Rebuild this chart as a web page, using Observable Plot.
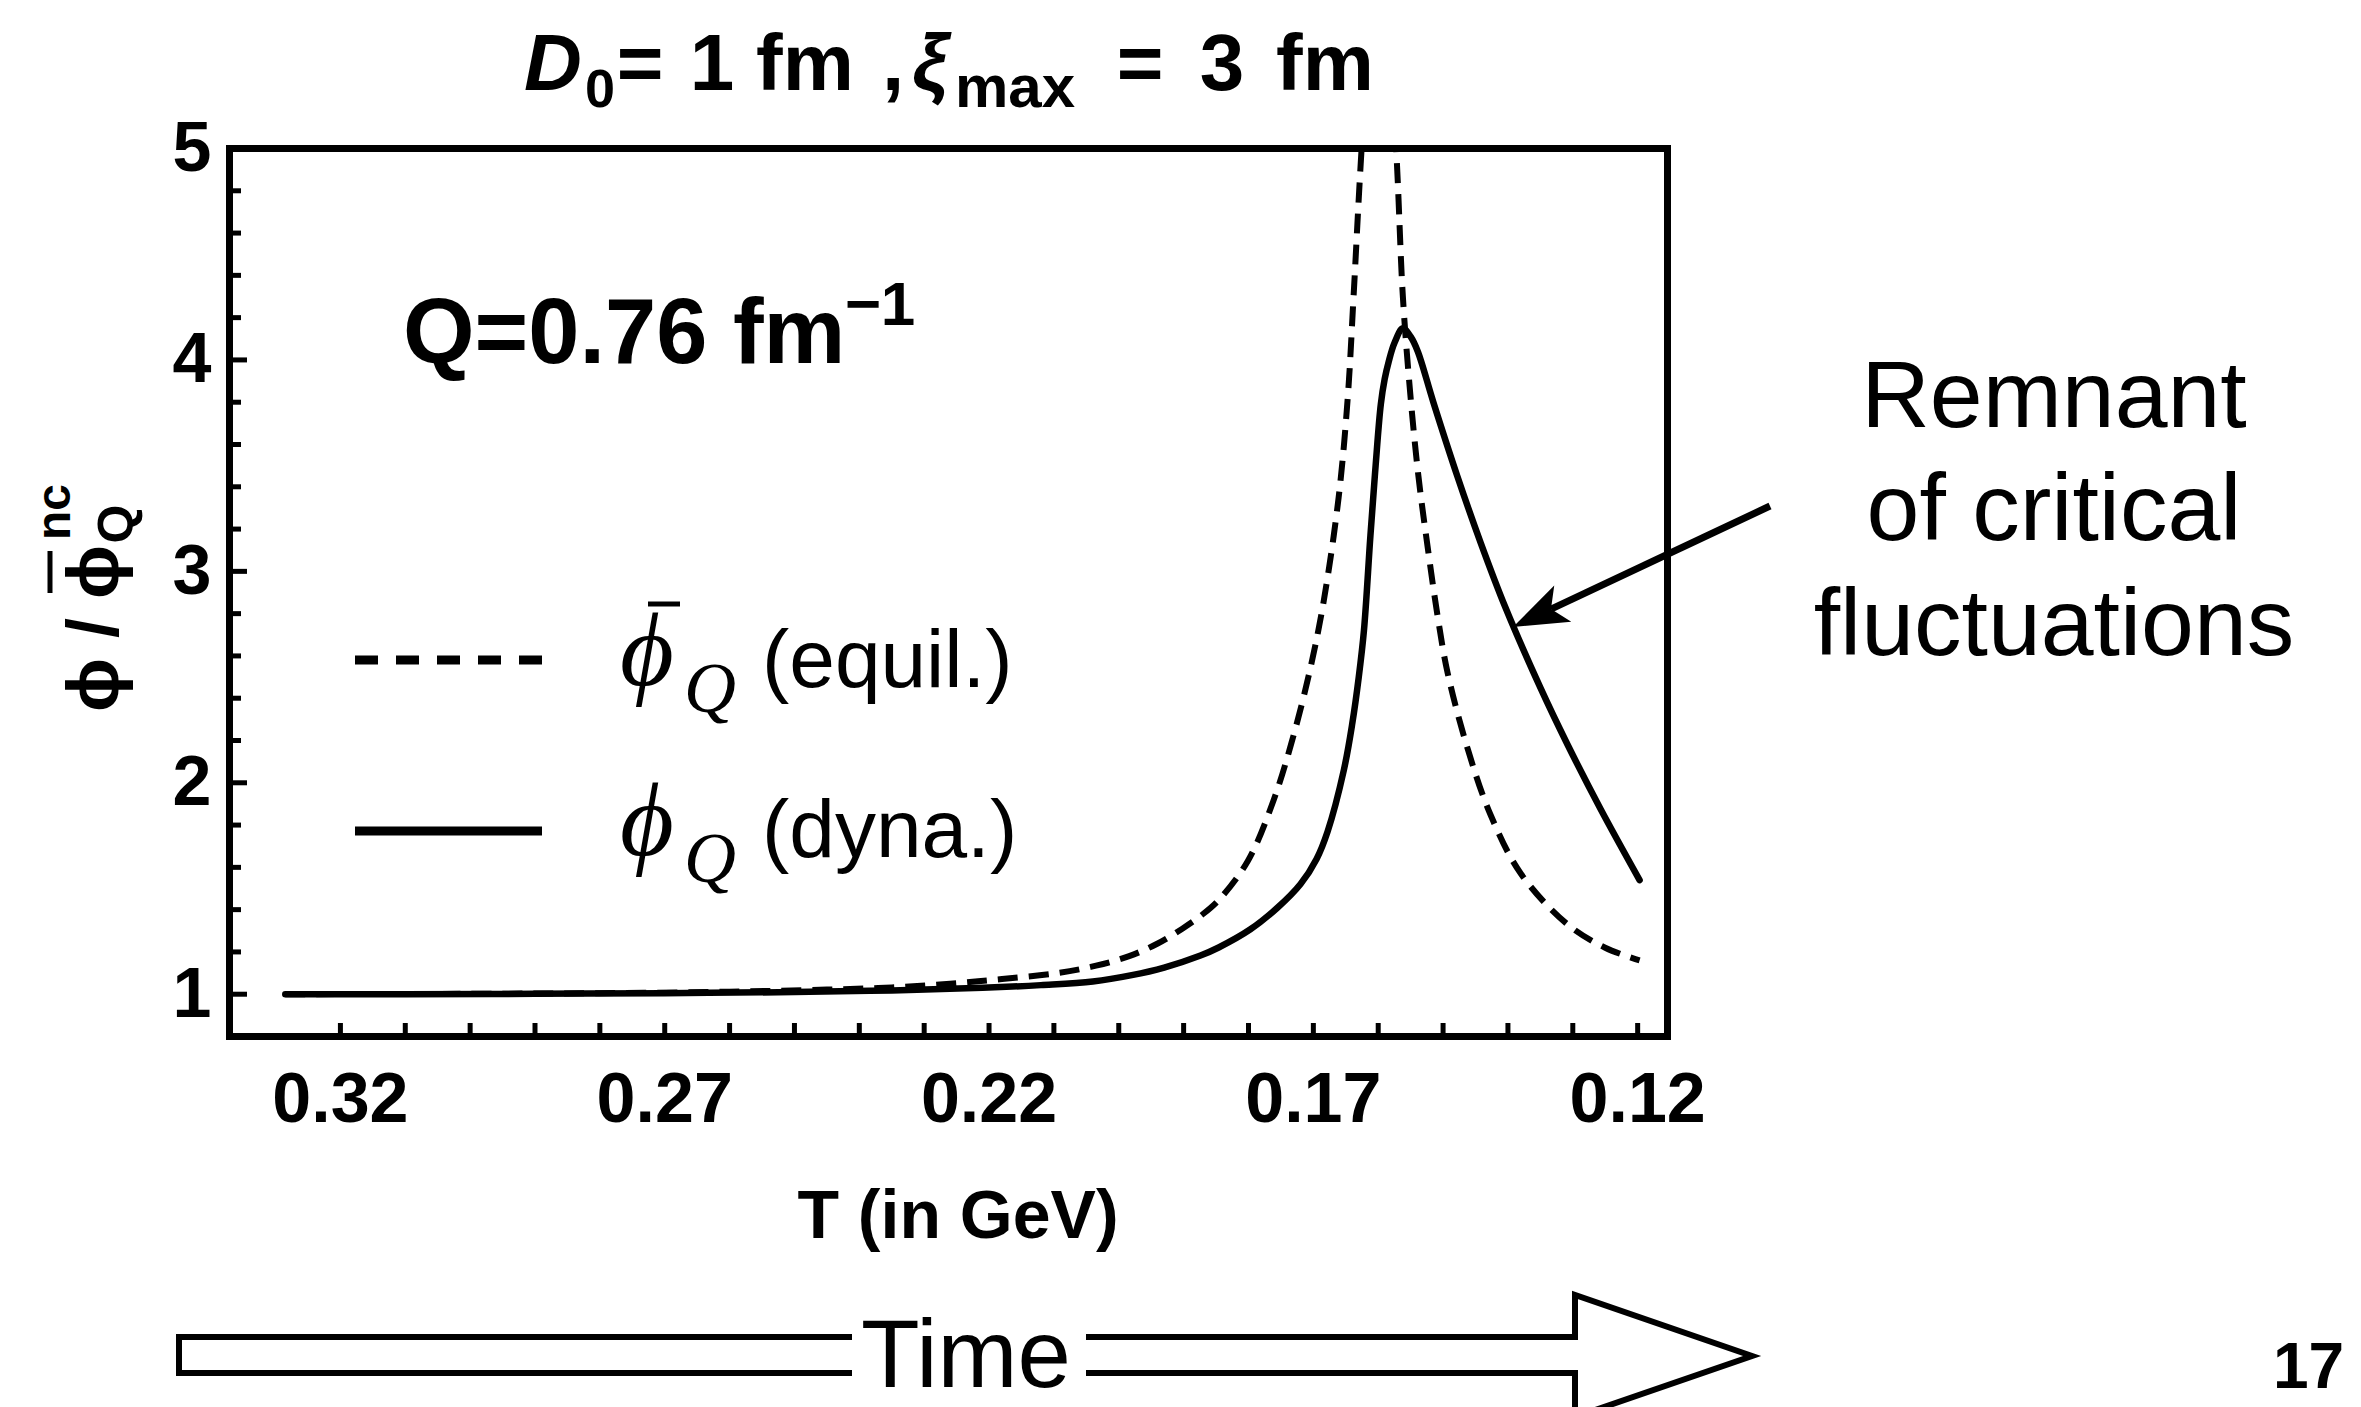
<!DOCTYPE html>
<html><head><meta charset="utf-8">
<script src="https://cdn.jsdelivr.net/npm/d3@7"></script>
<script src="https://cdn.jsdelivr.net/npm/@observablehq/plot@0.6"></script>
<style>
html,body{margin:0;padding:0;background:#fff;}
#wrap{position:relative;width:2361px;height:1407px;overflow:hidden;background:#fff;}
#wrap svg{position:absolute;left:0;top:0;}
</style></head><body><div id="wrap"></div>
<script>
// ---- data ----
const T_dyn   = [0.3285, 0.31, 0.29, 0.27, 0.25, 0.235, 0.221, 0.212, 0.204, 0.198, 0.193, 0.1874, 0.1846, 0.1797, 0.1755, 0.172, 0.1695, 0.1678, 0.1653, 0.1640, 0.1630, 0.1622, 0.1612, 0.1604, 0.1596, 0.1590, 0.1584, 0.1575, 0.1562, 0.1550, 0.1539, 0.1515, 0.1478, 0.1442, 0.1404, 0.1350, 0.1308, 0.1257, 0.1197];
const phi_dyn = [1.0, 1.0, 1.002, 1.005, 1.01, 1.018, 1.03, 1.043, 1.06, 1.09, 1.126, 1.183, 1.221, 1.307, 1.41, 1.52, 1.64, 1.77, 2.06, 2.28, 2.50, 2.72, 3.17, 3.50, 3.79, 3.91, 3.99, 4.08, 4.15, 4.11, 4.04, 3.80, 3.45, 3.135, 2.83, 2.45, 2.18, 1.875, 1.54];
const T_eq    = [0.3285, 0.30, 0.28, 0.26, 0.245, 0.235, 0.226, 0.218, 0.2094, 0.2035, 0.1984, 0.1940, 0.1902, 0.1874, 0.1846, 0.1801, 0.1761, 0.173, 0.1704, 0.1684, 0.1661, 0.1647, 0.1638, 0.1626, 0.1598, 0.1572, 0.1562, 0.155, 0.1538, 0.1524, 0.1508, 0.1493, 0.1462, 0.1427, 0.138, 0.1308, 0.125, 0.1197];
const phi_eq  = [1.0, 1.002, 1.005, 1.012, 1.022, 1.032, 1.05, 1.072, 1.10, 1.135, 1.18, 1.24, 1.31, 1.37, 1.445, 1.63, 1.92, 2.23, 2.55, 2.86, 3.35, 3.82, 4.30, 4.98, 6.3, 4.98, 4.30, 3.82, 3.45, 3.12, 2.78, 2.52, 2.16, 1.85, 1.57, 1.33, 1.22, 1.16];
const xTickLabels = [0.32, 0.27, 0.22, 0.17, 0.12];
const xTicks = [0.32, 0.31, 0.30, 0.29, 0.28, 0.27, 0.26, 0.25, 0.24, 0.23, 0.22, 0.21, 0.20, 0.19, 0.18, 0.17, 0.16, 0.15, 0.14, 0.13, 0.12];
const yTickLabels = [1, 2, 3, 4, 5];
const yMinorTicks = [1.2, 1.4, 1.6, 1.8, 2.2, 2.4, 2.6, 2.8, 3.2, 3.4, 3.6, 3.8, 4.2, 4.4, 4.6, 4.8];
const xDomain = [0.3371, 0.1154];
const yDomain = [0.8, 5];

// ---- chart ----
const W = 2361, H = 1407;
const dyn = T_dyn.map((T, i) => ({T, v: phi_dyn[i]}));
const eq = T_eq.map((T, i) => ({T, v: phi_eq[i]}));
const sans = "'Liberation Sans', Arial, Helvetica, 'DejaVu Sans', sans-serif";
const serif = "'Liberation Serif', 'Times New Roman', 'DejaVu Serif', serif";

const chart = Plot.plot({
  width: W, height: H,
  marginLeft: 229, marginRight: W - 1667, marginTop: 148, marginBottom: H - 1036,
  x: {domain: xDomain},
  y: {domain: yDomain},
  style: {fontFamily: sans, background: "white", color: "black", overflow: "visible"},
  marks: [
    Plot.line(eq, {x: "T", y: "v", stroke: "black", strokeWidth: 6, strokeDasharray: "20,11", strokeLinecap: "butt", curve: "catmull-rom", clip: true}),
    Plot.line(dyn, {x: "T", y: "v", stroke: "black", strokeWidth: 6.5, curve: "catmull-rom", clip: true}),
    Plot.axisX(xTicks, {tickSize: -13, strokeWidth: 5, tickFormat: () => "", label: null}),
    Plot.axisX(xTickLabels, {tickSize: 0, tickPadding: 36, fontSize: 70, fontWeight: "bold", tickFormat: d => d.toFixed(2), label: null}),
    Plot.axisY(yTickLabels, {tickSize: -18, strokeWidth: 5, tickFormat: () => "", label: null}),
    Plot.axisY(yMinorTicks, {tickSize: -12, strokeWidth: 5, tickFormat: () => "", label: null}),
    Plot.axisY(yTickLabels, {tickSize: 0, tickPadding: 18, fontSize: 70, fontWeight: "bold", tickFormat: d => String(d), label: null}),
    Plot.frame({stroke: "black", strokeWidth: 7})
  ]
});
document.getElementById("wrap").appendChild(chart);

// ---- annotations overlay ----
const ov = d3.select("#wrap").append("svg").attr("width", W).attr("height", H)
  .style("pointer-events", "none");

function t(g, x, y, s, o = {}) {
  return g.append("text").attr("x", x).attr("y", y)
    .attr("font-family", o.family || sans)
    .attr("font-size", o.size || 80)
    .attr("font-weight", o.weight || "normal")
    .attr("font-style", o.style || "normal")
    .attr("text-anchor", o.anchor || "middle")
    .attr("fill", "black").text(s);
}

// title
const B = {weight: "bold", size: 80};
t(ov, 553, 90, "D", {...B, style: "italic"});
t(ov, 600, 107, "0", {...B, size: 54});
t(ov, 640, 90, "=", B);
t(ov, 712, 90, "1", B);
t(ov, 805, 90, "fm", B);
t(ov, 893, 90, ",", B);
t(ov, 930, 90, "ξ", {...B, style: "italic"});
t(ov, 1015, 107, "max", {...B, size: 60});
t(ov, 1140, 90, "=", B);
t(ov, 1222, 90, "3", B);
t(ov, 1325, 90, "fm", B);

// Q label
t(ov, 403, 363, "Q=0.76 fm", {weight: "bold", size: 92, anchor: "start"});
t(ov, 880, 325, "\u22121", {weight: "bold", size: 62});

// y axis label (rotated)
const yl = ov.append("g").attr("transform", "translate(118,600) rotate(-90)");
t(yl, -85, 0, "\u03D5", {weight: "bold", size: 72});
t(yl, -28, 0, "/", {weight: "bold", size: 72});
t(yl, 28, 0, "\u03D5", {weight: "bold", size: 72});
yl.append("line").attr("x1", 7).attr("x2", 49).attr("y1", -68).attr("y2", -68).attr("stroke", "black").attr("stroke-width", 5);
t(yl, 76, 15, "Q", {weight: "bold", size: 50});
t(yl, 60, -48, "nc", {weight: "bold", size: 48, anchor: "start"});

// x axis label
t(ov, 958, 1238, "T (in GeV)", {weight: "bold", size: 68});

// legend
ov.append("line").attr("x1", 355).attr("x2", 542).attr("y1", 660).attr("y2", 660)
  .attr("stroke", "black").attr("stroke-width", 9).attr("stroke-dasharray", "23,18");
ov.append("line").attr("x1", 355).attr("x2", 542).attr("y1", 831).attr("y2", 831)
  .attr("stroke", "black").attr("stroke-width", 9);
t(ov, 647, 685, "\u03D5", {family: serif, style: "italic", size: 104});
ov.append("line").attr("x1", 648).attr("x2", 680).attr("y1", 604).attr("y2", 604).attr("stroke", "black").attr("stroke-width", 5);
t(ov, 684, 712, "Q", {family: serif, style: "italic", size: 72, anchor: "start"});
t(ov, 762, 687, "(equil.)", {size: 82, anchor: "start"});
t(ov, 647, 855, "\u03D5", {family: serif, style: "italic", size: 104});
t(ov, 684, 882, "Q", {family: serif, style: "italic", size: 72, anchor: "start"});
t(ov, 762, 857, "(dyna.)", {size: 82, anchor: "start"});

// remnant annotation
t(ov, 2054, 427, "Remnant", {size: 95});
t(ov, 2054, 540, "of critical", {size: 95});
t(ov, 2054, 655, "fluctuations", {size: 95});
{
  const sx = 1770, sy = 506, tx = 1513, ty = 627;
  const L = Math.hypot(sx - tx, sy - ty);
  const ux = (sx - tx) / L, uy = (sy - ty) / L, px = -uy, py = ux;
  const hl = 55, hw = 20, nl = 42;
  ov.append("line").attr("x1", sx).attr("y1", sy).attr("x2", tx + ux * nl).attr("y2", ty + uy * nl)
    .attr("stroke", "black").attr("stroke-width", 7);
  const pts = [[tx, ty], [tx + ux * hl + px * hw, ty + uy * hl + py * hw], [tx + ux * nl, ty + uy * nl], [tx + ux * hl - px * hw, ty + uy * hl - py * hw]];
  ov.append("polygon").attr("points", pts.map(p => p.join(",")).join(" ")).attr("fill", "black");
}

// time arrow
ov.append("polygon")
  .attr("points", "179,1337 1575,1337 1575,1295 1752,1356 1575,1417 1575,1373 179,1373")
  .attr("fill", "white").attr("stroke", "black").attr("stroke-width", 6).attr("stroke-linejoin", "miter");
ov.append("rect").attr("x", 852).attr("y", 1326).attr("width", 234).attr("height", 58).attr("fill", "white");
t(ov, 966, 1387, "Time", {size: 96});

// page number
t(ov, 2273, 1388, "17", {weight: "bold", size: 64, anchor: "start"});
</script></body></html>
